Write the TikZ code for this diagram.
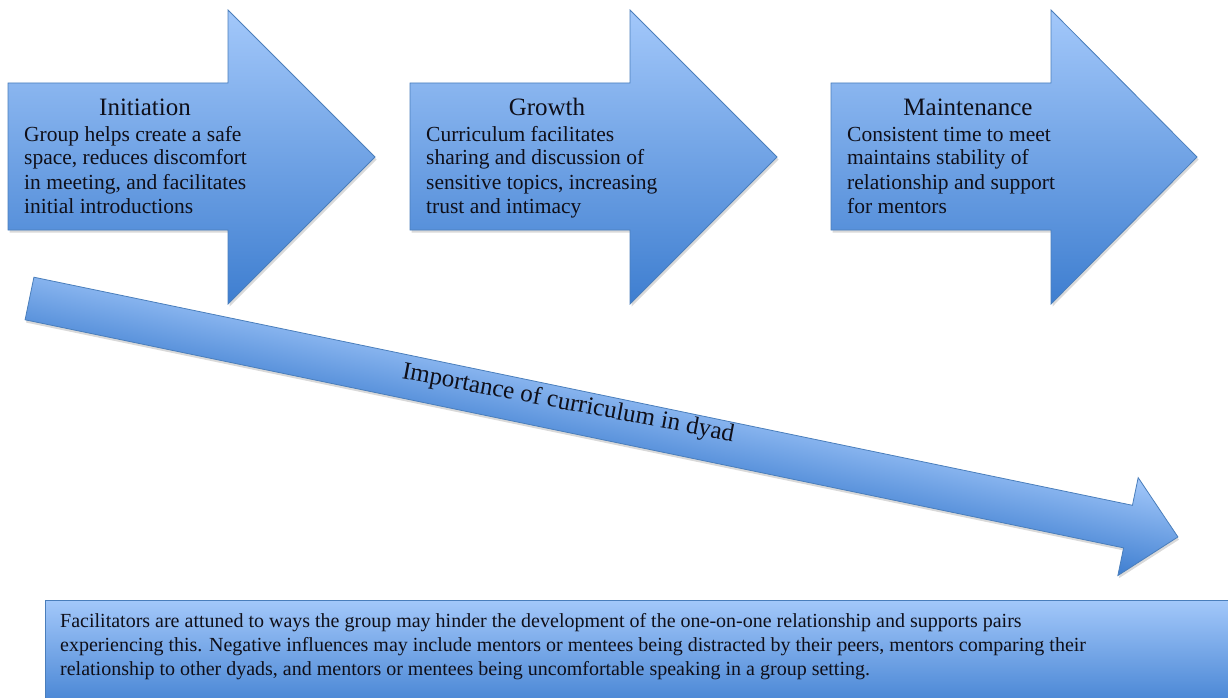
\documentclass[tikz,border=0pt]{standalone}
\usepackage{fontspec}
\setmainfont{Liberation Serif}
\usetikzlibrary{shadows}
\definecolor{gtop}{RGB}{163,200,250}
\definecolor{gbot}{RGB}{62,126,208}
\definecolor{bord}{RGB}{74,126,187}
\definecolor{ink}{RGB}{15,15,25}
\begin{document}
\begin{tikzpicture}[x=1pt,y=-1pt,
  blockfill/.style={top color=gtop,bottom color=gbot,draw=bord,line width=0.8pt,line join=miter,
    drop shadow={opacity=0.3,shadow xshift=1.5pt,shadow yshift=-2.5pt}},
  titletext/.style={font=\fontsize{25}{28}\selectfont,anchor=base,inner sep=0pt,text=ink},
  bodytext/.style={font=\fontsize{21.5}{24}\selectfont,anchor=base west,inner sep=0pt,text=ink},
  notetext/.style={font=\fontsize{20}{24}\selectfont,anchor=base west,inner sep=0pt,text=ink},
  diagtext/.style={font=\fontsize{25}{28}\selectfont,anchor=base,inner sep=0pt,text=ink,rotate=-10.8},
]
\useasboundingbox (0,0) rectangle (1228,698);
\clip (0,0) rectangle (1228,698);

% three stage arrows
\path[blockfill] (8,83) -- (228,83) -- (228,10) -- (375,157) -- (228,304) -- (228,230) -- (8,230) -- cycle;
\path[blockfill] (410,83) -- (630,83) -- (630,10) -- (777,157) -- (630,304) -- (630,230) -- (410,230) -- cycle;
\path[blockfill] (831,83) -- (1051,83) -- (1051,10) -- (1197,157) -- (1051,304) -- (1051,230) -- (831,230) -- cycle;

\node[titletext] (t1) at (145,116) {Initiation};
\node[bodytext] (b1) at (24,141) {\begin{tabular}[t]{@{}l@{}}Group helps create a safe\\space, reduces discomfort\\in meeting, and facilitates\\initial introductions\end{tabular}};

\node[titletext] (t2) at (547,116) {Growth};
\node[bodytext] (b2) at (426,141) {\begin{tabular}[t]{@{}l@{}}Curriculum facilitates\\sharing and discussion of\\sensitive topics, increasing\\trust and intimacy\end{tabular}};

\node[titletext] (t3) at (968,116) {Maintenance};
\node[bodytext] (b3) at (847,141) {\begin{tabular}[t]{@{}l@{}}Consistent time to meet\\maintains stability of\\relationship and support\\for mentors\end{tabular}};

% diagonal arrow
\begin{scope}[transform canvas={shift={(29.5,298.5)},rotate=-11.73}]
\path[blockfill] (0,-21.75) -- (1122,-21.75) -- (1122,-50) -- (1173,0) -- (1122,50) -- (1122,21.75) -- (0,21.75) -- cycle;
\end{scope}
\node[diagtext] (dt) at (567,410) {Importance of curriculum in dyad};

% bottom note box
\path[blockfill] (45,600) rectangle (1245,715);
\node[notetext] (nt) at (60,627) {\begin{tabular}[t]{@{}l@{}}Facilitators are attuned to ways the group may hinder the development of the one-on-one relationship and supports pairs\\experiencing this. Negative influences may include mentors or mentees being distracted by their peers, mentors comparing their\\relationship to other dyads, and mentors or mentees being uncomfortable speaking in a group setting.\end{tabular}};
\end{tikzpicture}
\end{document}
